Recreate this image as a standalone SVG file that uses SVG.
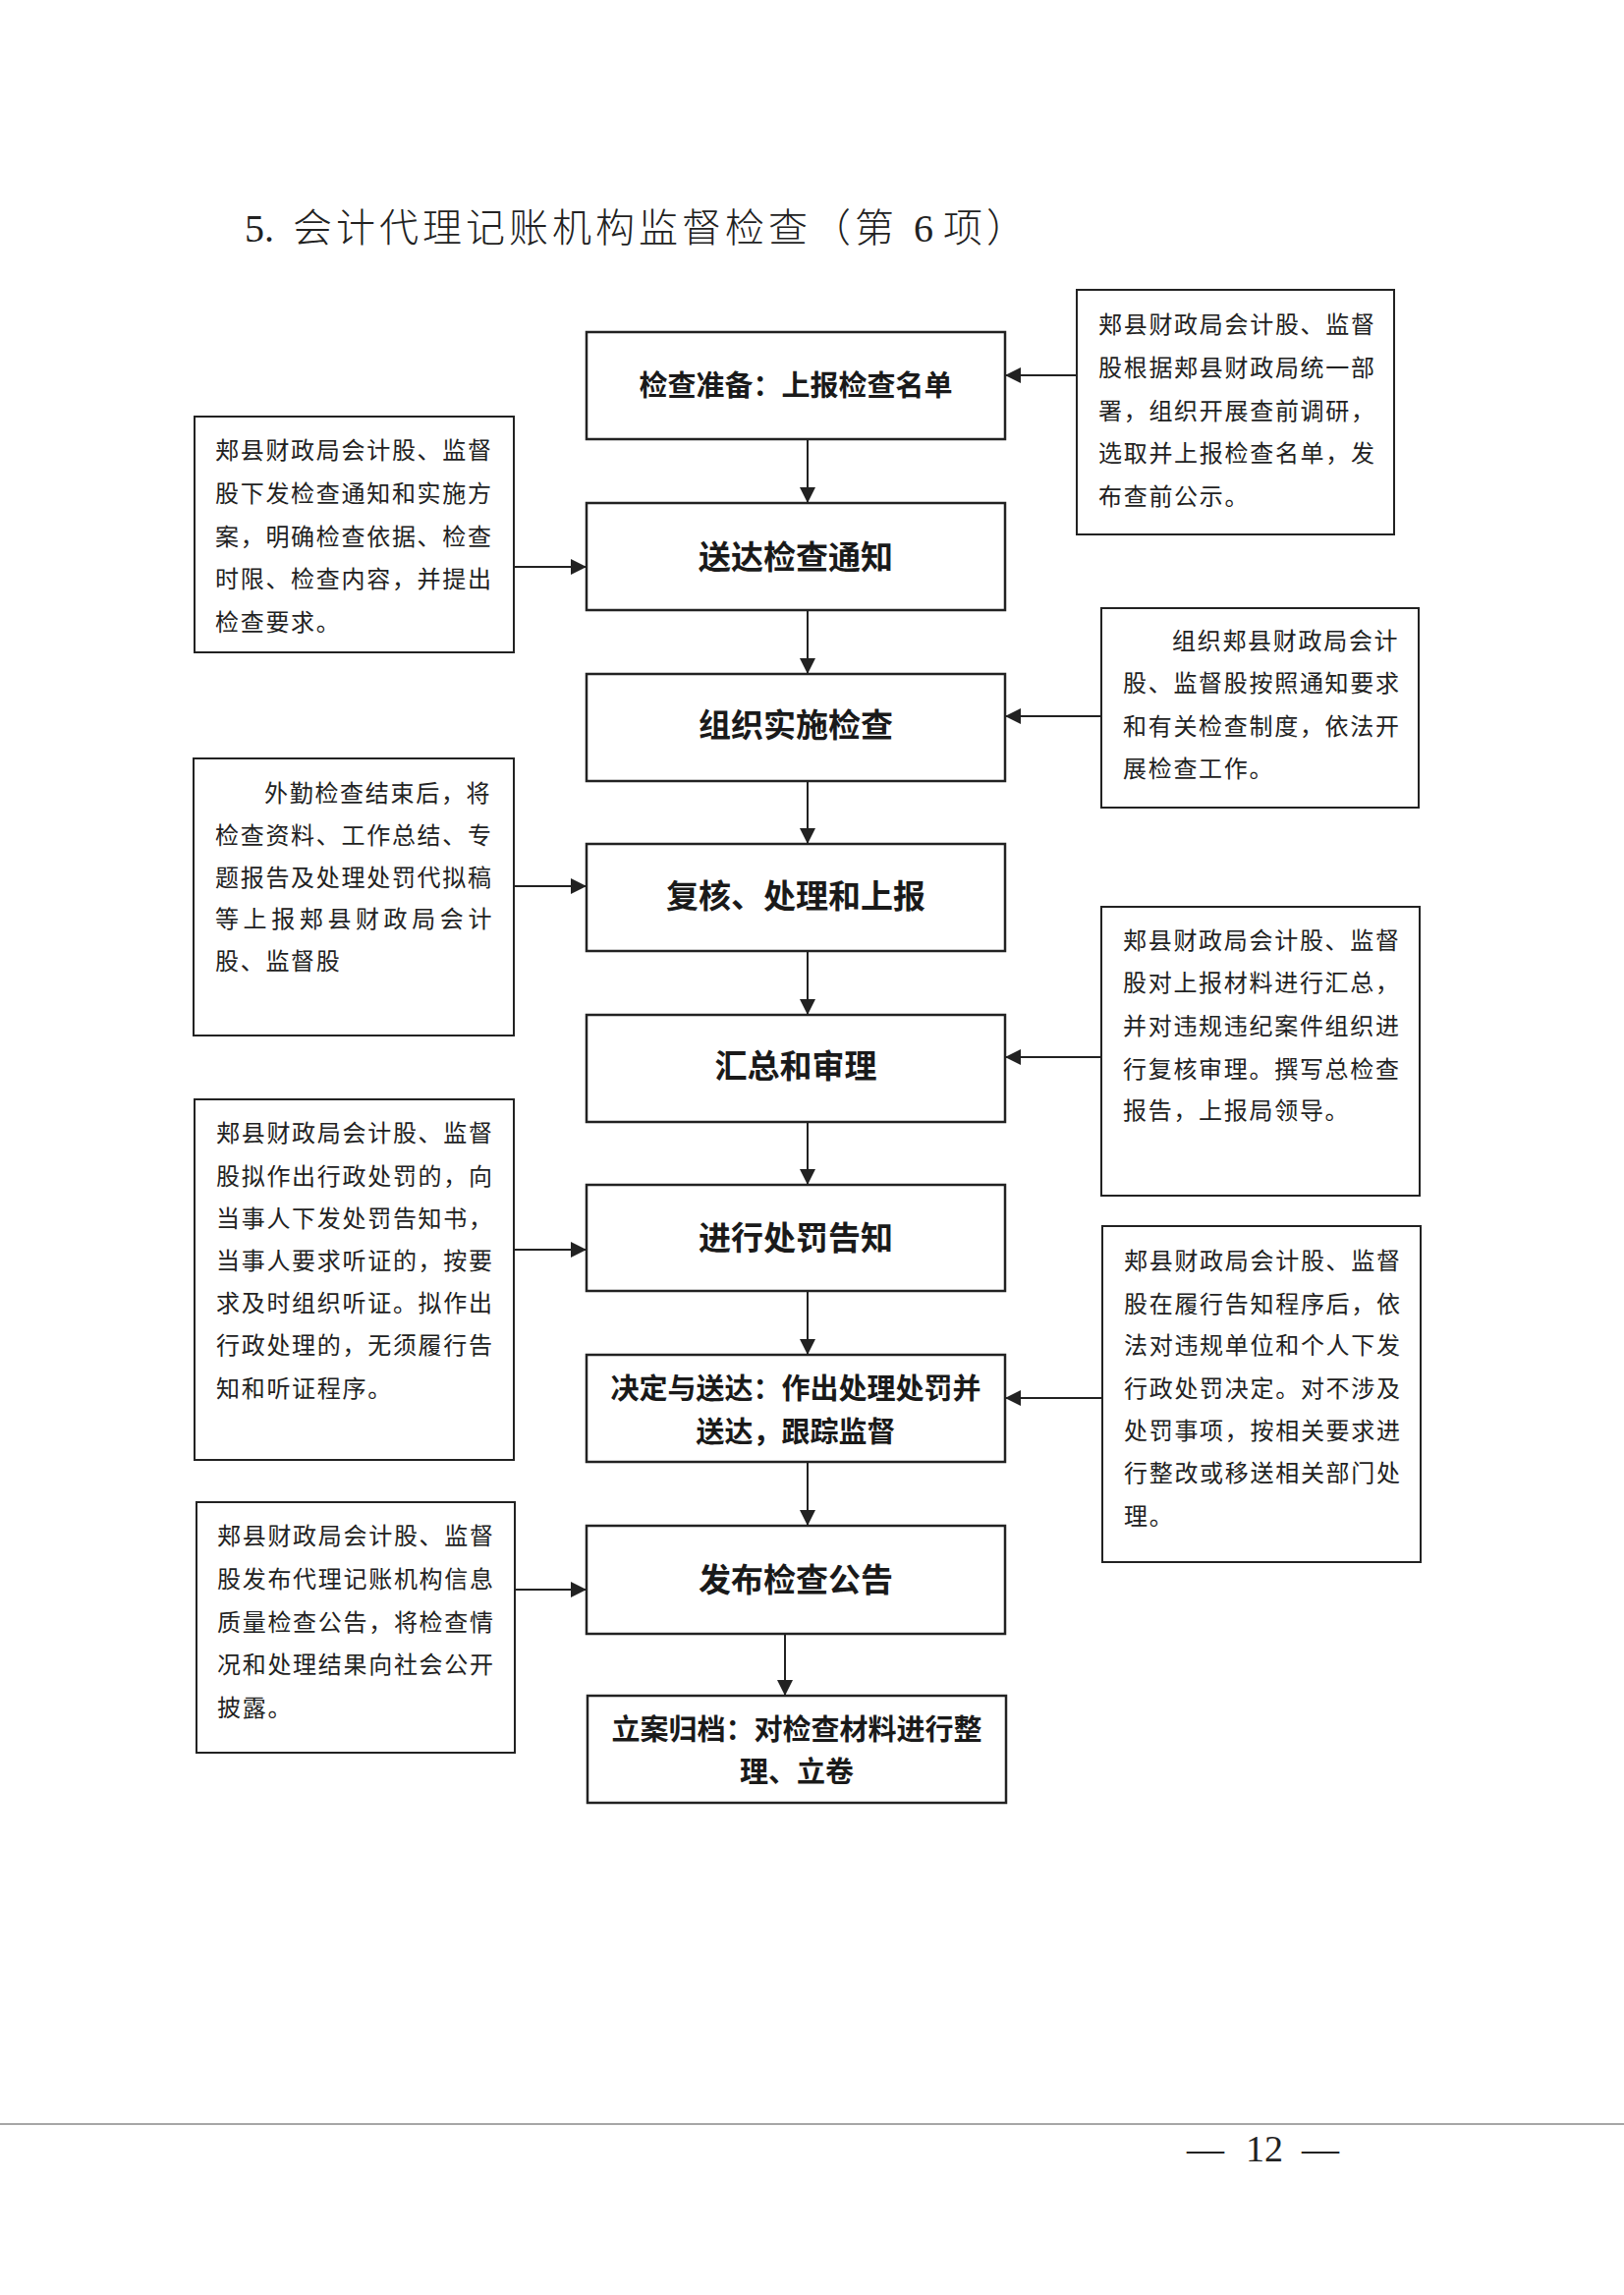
<svg xmlns="http://www.w3.org/2000/svg" width="1653" height="2336" viewBox="0 0 1653 2336">
<style>
.bg{fill:#fff}
.main{fill:#fff;stroke:#222;stroke-width:2.5}
.side{fill:#fff;stroke:#222;stroke-width:2}
.lbl{font-family:"Noto Sans CJK SC","Noto Sans",sans-serif;font-weight:700;fill:#1a1a1a;text-anchor:middle}
.l33{font-size:33px}
.l29{font-size:29px}
.body{font-family:"Noto Sans CJK SC","Noto Sans",sans-serif;font-size:24px;letter-spacing:1.7px;fill:#222}
.conn{stroke:#222;stroke-width:2;fill:none;marker-end:url(#ah)}
.title{font-family:"Noto Sans CJK SC",sans-serif;font-size:40px;fill:#222;font-weight:300}
.serif{font-family:"Liberation Serif",serif}
</style>
<defs>
<marker id="ah" markerUnits="userSpaceOnUse" markerWidth="16" markerHeight="16" refX="16" refY="8" orient="auto">
<path d="M0,0 L16,8 L0,16 z" fill="#222"/>
</marker>
</defs>
<rect class="bg" x="0" y="0" width="1653" height="2336"/>

<g id="title">
<text class="title" y="246"><tspan class="serif" x="249">5.</tspan><tspan x="298" letter-spacing="4">会计代理记账机构监督检查（第</tspan><tspan class="serif" x="930">6</tspan><tspan x="960" letter-spacing="4">项）</tspan></text>
</g>

<g id="connectors">
<line class="conn" x1="822" y1="447" x2="822" y2="512"/>
<line class="conn" x1="822" y1="621" x2="822" y2="686"/>
<line class="conn" x1="822" y1="795" x2="822" y2="859"/>
<line class="conn" x1="822" y1="968" x2="822" y2="1033"/>
<line class="conn" x1="822" y1="1142" x2="822" y2="1206"/>
<line class="conn" x1="822" y1="1314" x2="822" y2="1379"/>
<line class="conn" x1="822" y1="1488" x2="822" y2="1553"/>
<line class="conn" x1="799" y1="1663" x2="799" y2="1726"/>
<line class="conn" x1="1096" y1="382" x2="1023" y2="382"/>
<line class="conn" x1="523" y1="577" x2="597" y2="577"/>
<line class="conn" x1="1121" y1="729" x2="1023" y2="729"/>
<line class="conn" x1="523" y1="902" x2="597" y2="902"/>
<line class="conn" x1="1121" y1="1076" x2="1023" y2="1076"/>
<line class="conn" x1="523" y1="1272" x2="597" y2="1272"/>
<line class="conn" x1="1122" y1="1423" x2="1023" y2="1423"/>
<line class="conn" x1="524" y1="1618" x2="597" y2="1618"/>
</g>

<g id="n1"><rect class="main" x="597" y="338" width="426" height="109"/><text class="lbl l29" x="810" y="403">检查准备：上报检查名单</text></g>
<g id="n2"><rect class="main" x="597" y="512" width="426" height="109"/><text class="lbl l33" x="810" y="579">送达检查通知</text></g>
<g id="n3"><rect class="main" x="597" y="686" width="426" height="109"/><text class="lbl l33" x="810" y="750">组织实施检查</text></g>
<g id="n4"><rect class="main" x="597" y="859" width="426" height="109"/><text class="lbl l33" x="810" y="924">复核、处理和上报</text></g>
<g id="n5"><rect class="main" x="597" y="1033" width="426" height="109"/><text class="lbl l33" x="810" y="1097">汇总和审理</text></g>
<g id="n6"><rect class="main" x="597" y="1206" width="426" height="108"/><text class="lbl l33" x="810" y="1272">进行处罚告知</text></g>
<g id="n7"><rect class="main" x="597" y="1379" width="426" height="109"/><text class="lbl l29" x="810" y="1424">决定与送达：作出处理处罚并</text><text class="lbl l29" x="810" y="1468">送达，跟踪监督</text></g>
<g id="n8"><rect class="main" x="597" y="1553" width="426" height="110"/><text class="lbl l33" x="810" y="1620">发布检查公告</text></g>
<g id="n9"><rect class="main" x="598" y="1726" width="426" height="109"/><text class="lbl l29" x="811" y="1771">立案归档：对检查材料进行整</text><text class="lbl l29" x="811" y="1814">理、立卷</text></g>

<g id="r1"><rect class="side" x="1096" y="295" width="323" height="249"/>
<text class="body"><tspan x="1118" y="339">郏县财政局会计股、监督</tspan><tspan x="1118" y="383">股根据郏县财政局统一部</tspan><tspan x="1118" y="427">署，组织开展查前调研，</tspan><tspan x="1118" y="470">选取并上报检查名单，发</tspan><tspan x="1118" y="514">布查前公示。</tspan></text></g>

<g id="l1"><rect class="side" x="198" y="424" width="325" height="240"/>
<text class="body"><tspan x="219" y="467">郏县财政局会计股、监督</tspan><tspan x="219" y="511">股下发检查通知和实施方</tspan><tspan x="219" y="555">案，明确检查依据、检查</tspan><tspan x="219" y="598">时限、检查内容，并提出</tspan><tspan x="219" y="642">检查要求。</tspan></text></g>

<g id="r2"><rect class="side" x="1121" y="619" width="323" height="203"/>
<text class="body"><tspan x="1193" y="661">组织郏县财政局会计</tspan><tspan x="1143" y="704">股、监督股按照通知要求</tspan><tspan x="1143" y="748">和有关检查制度，依法开</tspan><tspan x="1143" y="791">展检查工作。</tspan></text></g>

<g id="l2"><rect class="side" x="197" y="772" width="326" height="282"/>
<text class="body"><tspan x="269" y="816">外勤检查结束后，将</tspan><tspan x="219" y="859">检查资料、工作总结、专</tspan><tspan x="219" y="902">题报告及处理处罚代拟稿</tspan><tspan x="219" y="944" letter-spacing="4.6">等上报郏县财政局会计</tspan><tspan x="219" y="987">股、监督股</tspan></text></g>

<g id="r3"><rect class="side" x="1121" y="923" width="324" height="294"/>
<text class="body"><tspan x="1143" y="966">郏县财政局会计股、监督</tspan><tspan x="1143" y="1009">股对上报材料进行汇总，</tspan><tspan x="1143" y="1053">并对违规违纪案件组织进</tspan><tspan x="1143" y="1097">行复核审理。撰写总检查</tspan><tspan x="1143" y="1139">报告，上报局领导。</tspan></text></g>

<g id="l3"><rect class="side" x="198" y="1119" width="325" height="367"/>
<text class="body"><tspan x="220" y="1162">郏县财政局会计股、监督</tspan><tspan x="220" y="1206">股拟作出行政处罚的，向</tspan><tspan x="220" y="1249">当事人下发处罚告知书，</tspan><tspan x="220" y="1292">当事人要求听证的，按要</tspan><tspan x="220" y="1335">求及时组织听证。拟作出</tspan><tspan x="220" y="1378">行政处理的，无须履行告</tspan><tspan x="220" y="1422">知和听证程序。</tspan></text></g>

<g id="r4"><rect class="side" x="1122" y="1248" width="324" height="342"/>
<text class="body"><tspan x="1144" y="1292">郏县财政局会计股、监督</tspan><tspan x="1144" y="1336">股在履行告知程序后，依</tspan><tspan x="1144" y="1378">法对违规单位和个人下发</tspan><tspan x="1144" y="1422">行政处罚决定。对不涉及</tspan><tspan x="1144" y="1465">处罚事项，按相关要求进</tspan><tspan x="1144" y="1508">行整改或移送相关部门处</tspan><tspan x="1144" y="1552">理。</tspan></text></g>

<g id="l4"><rect class="side" x="200" y="1529" width="324" height="255"/>
<text class="body"><tspan x="221" y="1572">郏县财政局会计股、监督</tspan><tspan x="221" y="1616">股发布代理记账机构信息</tspan><tspan x="221" y="1660">质量检查公告，将检查情</tspan><tspan x="221" y="1703">况和处理结果向社会公开</tspan><tspan x="221" y="1747">披露。</tspan></text></g>

<g id="footer">
<line x1="0" y1="2162" x2="1653" y2="2162" stroke="#888" stroke-width="1.5"/>
<text class="serif" font-size="38" fill="#222" y="2200"><tspan x="1208">—</tspan><tspan x="1268">12</tspan><tspan x="1325">—</tspan></text>
</g>
</svg>
